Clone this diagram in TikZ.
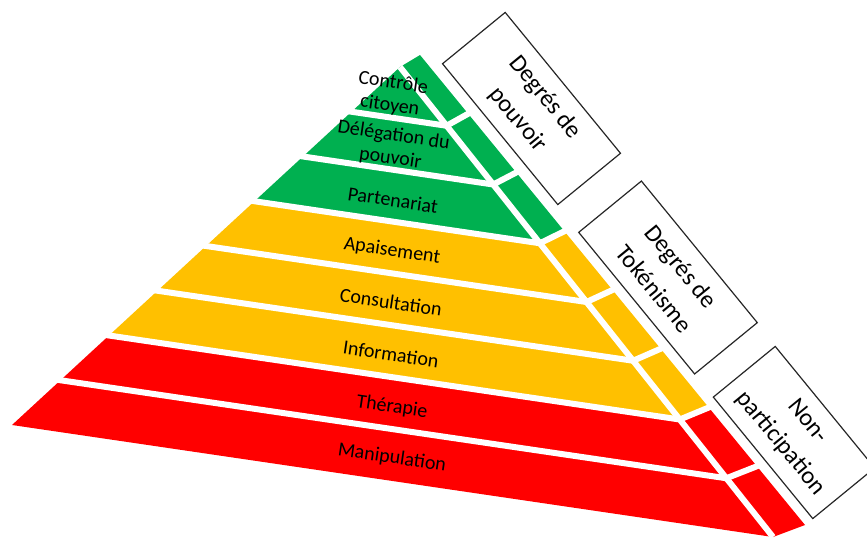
\documentclass[tikz,border=0pt]{standalone}
\usepackage{fontspec}
\setmainfont{Carlito}
\usetikzlibrary{calc}
\definecolor{pgreen}{HTML}{00B050}
\definecolor{pyellow}{HTML}{FFC000}
\definecolor{pred}{HTML}{FF0000}
\begin{document}
\begin{tikzpicture}[x=1pt,y=-1pt,
  gap/.style={draw=white,line width=6pt,line join=miter},
  lab/.style={font=\fontsize{20}{23}\selectfont,rotate=-8.4,align=center,inner sep=0pt},
  tag/.style={draw=black!85,line width=1.2pt,rotate=-50.7,minimum width=182pt,minimum height=81pt,align=center,font=\fontsize{24.5}{35}\selectfont,inner sep=0pt}]
\useasboundingbox (0,0) rectangle (867,538);
\clip (0,0) rectangle (867,538);
\coordinate (A) at (400,67);
\coordinate (B) at (773,537);
\coordinate (LB) at (12,425);
\coordinate (OT) at (420,55);
\coordinate (OB) at (805,525);
\foreach \k/\c in {1/pgreen,2/pgreen,3/pgreen,4/pyellow,5/pyellow,6/pyellow,7/pred,8/pred} {
  \pgfmathsetmacro\a{(\k-1)/8}
  \pgfmathsetmacro\b{\k/8}
  \fill[\c] ($(A)!\a!(LB)$) -- ($(A)!\a!(B)$) -- ($(A)!\b!(B)$) -- ($(A)!\b!(LB)$) -- cycle;
  \fill[\c] ($(A)!\a!(B)$) -- ($(OT)!\a!(OB)$) -- ($(OT)!\b!(OB)$) -- ($(A)!\b!(B)$) -- cycle;
}
\foreach \k in {1,...,7} {
  \pgfmathsetmacro\a{\k/8}
  \coordinate (p) at ($(A)!\a!(LB)$);
  \coordinate (q) at ($(A)!\a!(B)$);
  \coordinate (r) at ($(OT)!\a!(OB)$);
  \draw[gap] ($(p)!-8pt!(q)$) -- (q) -- ($(r)!-8pt!(q)$);
}
\draw[gap] (A) -- (B);
\node[tag] (t1) at (531.5,108.5) {Degrés de\\pouvoir};
\node[tag,minimum width=183pt] (t2) at (668,277.5) {Degrés de\\Tokénisme};
\node[tag,minimum width=157pt,minimum height=80pt] (t3) at (794,432.5) {Non-\\participation};
\node[lab] (l1) at (391.5,94.5) {Contrôle\\citoyen};
\node[lab] (l2) at (392,147) {Délégation du\\pouvoir};
\node[lab] (l3) at (393,200) {Partenariat};
\node[lab] (l4) at (392,251) {Apaisement};
\node[lab] (l5) at (391,302) {Consultation};
\node[lab] (l6) at (391,354) {Information};
\node[lab] (l7) at (392,407) {Thérapie};
\node[lab] (l8) at (392,458) {Manipulation};
\end{tikzpicture}
\end{document}
